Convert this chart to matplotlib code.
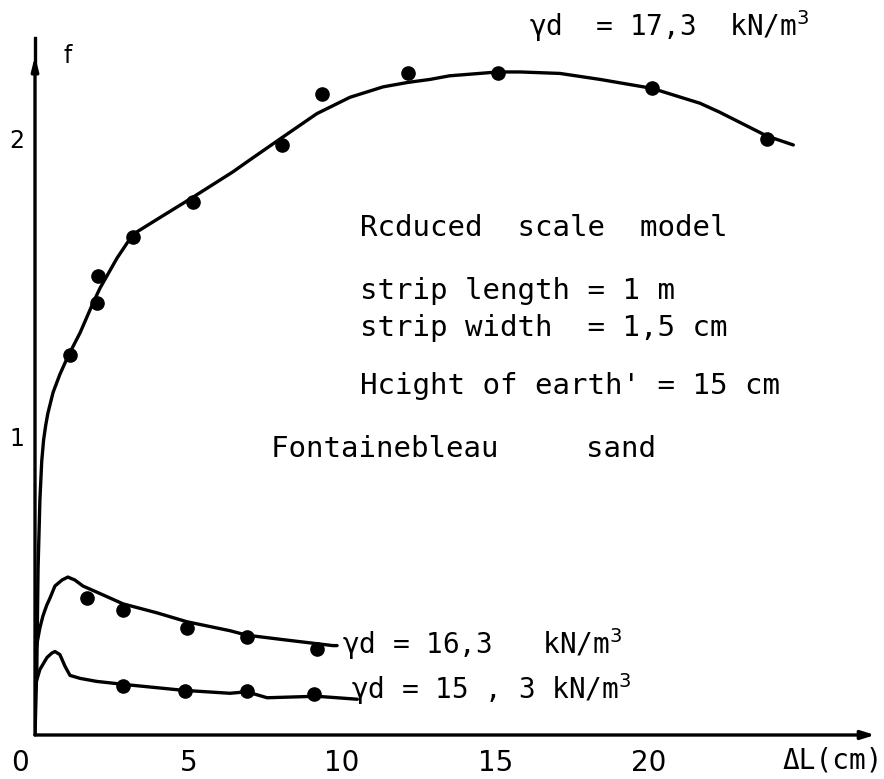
import matplotlib
matplotlib.use("Agg")
import matplotlib.pyplot as plt
from matplotlib.transforms import offset_copy

# ---- data ----
# gamma_d = 17.3 kN/m3 : measured points
x_173 = [1.14, 2.02, 2.05, 3.19, 5.15, 8.05, 9.35, 12.15, 15.08, 20.1, 23.84]
y_173 = [1.275, 1.45, 1.54, 1.67, 1.79, 1.98, 2.15, 2.22, 2.22, 2.17, 2.0]
# fitted curve
cx_173 = [0.0, 0.06, 0.1, 0.16, 0.22, 0.28, 0.35, 0.42, 0.59, 0.81, 1.07, 1.47, 1.89, 2.12,
          2.67, 3.19, 3.97, 4.6, 5.15, 6.45, 7.0, 7.98, 9.18, 10.26, 11.34, 12.15, 12.87, 13.5,
          15.08, 15.8, 17.1, 18.4, 20.1, 21.66, 22.3, 23.84, 24.7]
cy_173 = [0.0, 0.23, 0.56, 0.79, 0.92, 0.99, 1.04, 1.08, 1.15, 1.21, 1.27, 1.35, 1.45, 1.50,
          1.60, 1.68, 1.73, 1.77, 1.805, 1.89, 1.93, 2.0, 2.085, 2.14, 2.175, 2.19, 2.20, 2.212,
          2.225, 2.225, 2.22, 2.20, 2.17, 2.12, 2.09, 2.01, 1.98]

# gamma_d = 16.3 kN/m3
x_163 = [1.69, 2.87, 4.95, 6.9, 9.18]
y_163 = [0.46, 0.42, 0.36, 0.33, 0.29]
cx_163 = [0.0, 0.07, 0.16, 0.26, 0.38, 0.49, 0.65, 0.88, 1.07, 1.3, 1.56, 2.0, 2.87, 3.97,
          4.95, 6.35, 6.9, 8.08, 9.7, 9.84]
cy_163 = [0.26, 0.31, 0.36, 0.40, 0.435, 0.46, 0.50, 0.52, 0.53, 0.52, 0.50, 0.48, 0.44, 0.41,
          0.38, 0.35, 0.335, 0.32, 0.30, 0.30]

# gamma_d = 15.3 kN/m3
x_153 = [2.87, 4.9, 6.9, 9.1]
y_153 = [0.165, 0.147, 0.147, 0.137]
cx_153 = [0.0, 0.03, 0.16, 0.39, 0.55, 0.65, 0.81, 0.98, 1.14, 1.47, 2.0, 2.87, 4.82, 6.35,
          6.9, 7.56, 9.18, 10.5]
cy_153 = [0.14, 0.175, 0.22, 0.26, 0.275, 0.28, 0.27, 0.23, 0.20, 0.19, 0.18, 0.17, 0.15, 0.14,
          0.145, 0.125, 0.13, 0.12]

xticks = [0, 5, 10, 15, 20]
xtick_labels = ["0", "5", "10", "15", "20"]
yticks = [1, 2]
ytick_labels = ["1", "2"]

label_173 = "\u03b3d  = 17,3  kN/m$^3$"
label_163 = "\u03b3d = 16,3   kN/m$^3$"
label_153 = "\u03b3d = 15 , 3 kN/m$^3$"
notes = ["Rcduced  scale  model", "strip length = 1 m", "strip width  = 1,5 cm",
         "Hcight of earth' = 15 cm"]
note_sand = "Fontainebleau     sand"

plt.rcParams['font.family'] = ['DejaVu Sans']
MONO = ['DejaVu Sans Mono', 'DejaVu Sans']

W, H = 884, 779
fig = plt.figure(figsize=(W / 100, H / 100), dpi=100)
x0, y0 = 35, 735          # origin in pixels (from top)
xs, ys = 30.7, 298.0      # px per unit
x_end, y_top = 875, 38
ax = fig.add_axes([x0 / W, (H - y0) / H, (x_end - x0) / W, (y0 - y_top) / H])
xmax = (x_end - x0) / xs
ymax = (y0 - y_top) / ys
ax.set_xlim(0, xmax)
ax.set_ylim(0, ymax)
for s in ax.spines.values():
    s.set_visible(False)

lw = 2.4
kw = dict(color="black", lw=lw, solid_capstyle="round", solid_joinstyle="round")
ax.plot(cx_173, cy_173, **kw)
ax.plot(cx_163, cy_163, **kw)
ax.plot(cx_153, cy_153, **kw)
ms = 9.5
ax.plot(x_173, y_173, "o", color="black", ms=ms)
ax.plot(x_163, y_163, "o", color="black", ms=ms)
ax.plot(x_153, y_153, "o", color="black", ms=ms)

# axes with arrows
ax.annotate("", xy=(xmax, 0), xytext=(0, 0),
            arrowprops=dict(arrowstyle="-|>,head_length=0.8,head_width=0.25", color="black", lw=2.4,
                            shrinkA=0, shrinkB=0), annotation_clip=False)
ax.annotate("", xy=(0, ymax - 0.06), xytext=(0, 0),
            arrowprops=dict(arrowstyle="-|>,head_length=0.8,head_width=0.2", color="black", lw=2.4,
                            shrinkA=0, shrinkB=0), annotation_clip=False)
ax.plot([0, 0], [ymax - 0.1, ymax], color="black", lw=2.4, clip_on=False)

ax.set_xticks(xticks)
ax.set_xticklabels(xtick_labels, fontsize=20)
ax.set_yticks(yticks)
ax.set_yticklabels(ytick_labels, fontsize=17)
ax.tick_params(axis="x", length=0, pad=10)
ax.tick_params(axis="y", length=0, pad=8)
lab0 = ax.get_xticklabels()[0]
lab0.set_transform(offset_copy(lab0.get_transform(), fig=fig, x=-15, y=0, units="dots"))

ax.text(1.07, 2.28, "f", fontsize=17, ha="center", va="center")
ax.text(26.0, -0.085, "\u0394L(cm)", fontsize=20, ha="center", va="center", clip_on=False,
        family=MONO)

ax.text(16.1, 2.38, label_173, fontsize=20, ha="left", va="center", clip_on=False, family=MONO)
ax.text(10.0, 0.305, label_163, fontsize=20, ha="left", va="center", family=MONO)
ax.text(10.3, 0.155, label_153, fontsize=20, ha="left", va="center", family=MONO)

note_y = [1.70, 1.49, 1.365, 1.17]
for t, yy in zip(notes, note_y):
    ax.text(10.6, yy, t, fontsize=21, ha="left", va="center", family=MONO)
ax.text(7.7, 0.96, note_sand, fontsize=21, ha="left", va="center", family=MONO)

fig.savefig("out.png", dpi=100)
